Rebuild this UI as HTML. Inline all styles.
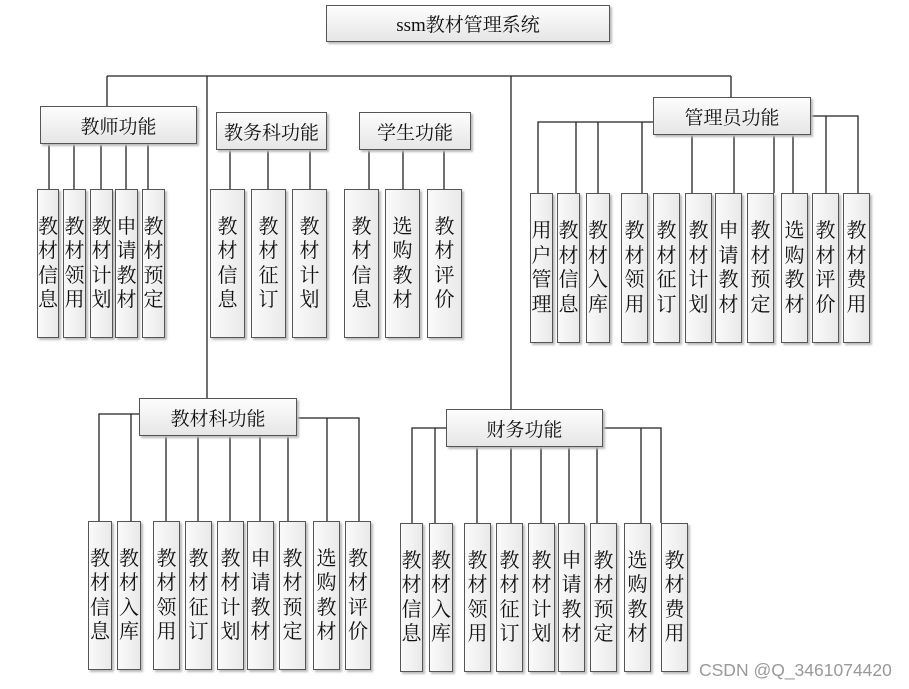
<!DOCTYPE html>
<html><head><meta charset="utf-8"><style>
body{margin:0;width:909px;height:689px;background:#fff;position:relative;overflow:hidden;font-family:"Liberation Serif","Noto Serif CJK SC",serif;color:#111}
.b{position:absolute;box-sizing:border-box;border:1px solid #555;background:linear-gradient(#fdfdfd,#e6e6e6);box-shadow:2px 2px 2px #bbb;display:flex;align-items:center;justify-content:center;font-size:19px}
.c{position:absolute;box-sizing:border-box;border:1px solid #555;background:linear-gradient(90deg,#fafafa,#e9e9e9);box-shadow:2px 2px 2px #bbb;display:flex;align-items:center;justify-content:center;font-size:20px;line-height:24.5px;text-align:center;overflow:visible}
.c span{display:block;width:20px;white-space:normal;word-break:break-all}
svg{position:absolute;left:0;top:0}
.w{position:absolute;left:699px;top:660px;font:17.5px "Liberation Sans",sans-serif;color:#999;white-space:nowrap}
</style></head><body>
<svg width="909" height="689"><g stroke="#222" stroke-width="1.3" fill="none">
<path d="M107 76H731M107 76V106M207 76V399M511 76V410M731 76V97"/>
<path d="M49 143V189M74 143V189M101 143V189M126 143V189M148 143V189"/>
<path d="M230 149V189M268 149V189M310 149V189M369 149V189M403 149V189M444 149V189"/>
<path d="M538 193V122H653M576 122V193M598 122V193M642 122V193M692 135V193M734 135V193M774 135V193M793 135V193M811 116H858V193M826 116V193"/>
<path d="M99 521V414H139M131 414V521M297 418H359V521M327 418V521M166 436V521M198 436V521M230 436V521M260 436V521M288 436V521"/>
<path d="M412 523V428H446M435 428V523M603 428H661V523M641 428V523M477 447V523M511 447V523M541 447V523M569 447V523M597 447V523"/>
</g></svg>
<div class="b" style="left:326px;top:5px;width:284px;height:37px">ssm教材管理系统</div>
<div class="b" style="left:40px;top:106px;width:157px;height:38px">教师功能</div>
<div class="b" style="left:216px;top:112px;width:111px;height:38px">教务科功能</div>
<div class="b" style="left:359px;top:112px;width:112px;height:38px">学生功能</div>
<div class="b" style="left:653px;top:97px;width:158px;height:38px">管理员功能</div>
<div class="b" style="left:139px;top:398px;width:158px;height:38px">教材科功能</div>
<div class="b" style="left:446px;top:409px;width:157px;height:38px">财务功能</div>

<div class="c" style="left:37px;top:189px;width:22px;height:149px"><span>教材信息</span></div>
<div class="c" style="left:63px;top:189px;width:23px;height:149px"><span>教材领用</span></div>
<div class="c" style="left:90px;top:189px;width:23px;height:149px"><span>教材计划</span></div>
<div class="c" style="left:115px;top:189px;width:23px;height:149px"><span>申请教材</span></div>
<div class="c" style="left:142px;top:189px;width:23px;height:149px"><span>教材预定</span></div>

<div class="c" style="left:210px;top:189px;width:35px;height:149px"><span>教材信息</span></div>
<div class="c" style="left:251px;top:189px;width:35px;height:149px"><span>教材征订</span></div>
<div class="c" style="left:292px;top:189px;width:35px;height:149px"><span>教材计划</span></div>
<div class="c" style="left:344px;top:189px;width:35px;height:149px"><span>教材信息</span></div>
<div class="c" style="left:385px;top:189px;width:35px;height:149px"><span>选购教材</span></div>
<div class="c" style="left:427px;top:189px;width:35px;height:149px"><span>教材评价</span></div>

<div class="c" style="left:530px;top:193px;width:23px;height:150px"><span>用户管理</span></div>
<div class="c" style="left:557px;top:193px;width:23px;height:150px"><span>教材信息</span></div>
<div class="c" style="left:586px;top:193px;width:24px;height:150px"><span>教材入库</span></div>
<div class="c" style="left:621px;top:193px;width:27px;height:150px"><span>教材领用</span></div>
<div class="c" style="left:653px;top:193px;width:27px;height:150px"><span>教材征订</span></div>
<div class="c" style="left:685px;top:193px;width:27px;height:150px"><span>教材计划</span></div>
<div class="c" style="left:715px;top:193px;width:27px;height:150px"><span>申请教材</span></div>
<div class="c" style="left:747px;top:193px;width:27px;height:150px"><span>教材预定</span></div>
<div class="c" style="left:781px;top:193px;width:27px;height:150px"><span>选购教材</span></div>
<div class="c" style="left:812px;top:193px;width:27px;height:150px"><span>教材评价</span></div>
<div class="c" style="left:843px;top:193px;width:27px;height:150px"><span>教材费用</span></div>

<div class="c" style="left:88px;top:521px;width:24px;height:149px"><span>教材信息</span></div>
<div class="c" style="left:117px;top:521px;width:24px;height:149px"><span>教材入库</span></div>
<div class="c" style="left:153px;top:521px;width:27px;height:149px"><span>教材领用</span></div>
<div class="c" style="left:185px;top:521px;width:27px;height:149px"><span>教材征订</span></div>
<div class="c" style="left:217px;top:521px;width:27px;height:149px"><span>教材计划</span></div>
<div class="c" style="left:247px;top:521px;width:27px;height:149px"><span>申请教材</span></div>
<div class="c" style="left:279px;top:521px;width:27px;height:149px"><span>教材预定</span></div>
<div class="c" style="left:313px;top:521px;width:27px;height:149px"><span>选购教材</span></div>
<div class="c" style="left:345px;top:521px;width:26px;height:149px"><span>教材评价</span></div>

<div class="c" style="left:400px;top:523px;width:23px;height:149px"><span>教材信息</span></div>
<div class="c" style="left:429px;top:523px;width:24px;height:149px"><span>教材入库</span></div>
<div class="c" style="left:464px;top:523px;width:27px;height:149px"><span>教材领用</span></div>
<div class="c" style="left:496px;top:523px;width:27px;height:149px"><span>教材征订</span></div>
<div class="c" style="left:528px;top:523px;width:27px;height:149px"><span>教材计划</span></div>
<div class="c" style="left:558px;top:523px;width:27px;height:149px"><span>申请教材</span></div>
<div class="c" style="left:590px;top:523px;width:27px;height:149px"><span>教材预定</span></div>
<div class="c" style="left:624px;top:523px;width:27px;height:149px"><span>选购教材</span></div>
<div class="c" style="left:661px;top:523px;width:27px;height:149px"><span>教材费用</span></div>
<div class="w">CSDN @Q_3461074420</div>
</body></html>
